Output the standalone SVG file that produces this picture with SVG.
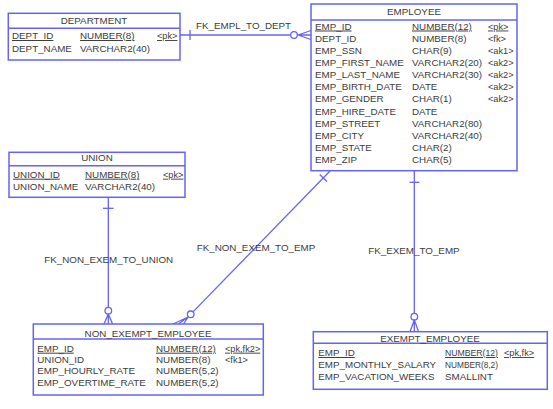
<svg xmlns="http://www.w3.org/2000/svg" width="553" height="409" viewBox="0 0 553 409">
<style>
text{font-family:"Liberation Sans",Arial,sans-serif;font-size:9.8px;fill:#3c3c3c}
.key{font-size:9.2px}
.pk{text-decoration:underline}
.title{text-anchor:middle}
.box{fill:#ffffff;stroke:#6464f0;stroke-width:1.5}
.sep{stroke:#6464f0;stroke-width:1.5}
.ln{stroke:#6464f0;stroke-width:1.3;fill:none}
.circ{stroke:#6464f0;stroke-width:1.3;fill:#ffffff}
</style>
<rect width="553" height="409" fill="#ffffff"/>
<g id="connectors">
  <!-- FK_EMPL_TO_DEPT -->
  <line class="ln" x1="180" y1="35" x2="290.7" y2="35"/>
  <line class="ln" x1="190" y1="30" x2="190" y2="40"/>
  <circle class="circ" cx="294" cy="35" r="3.3"/>
  <path class="ln" d="M297.3 35 L311 35 M298 35 L311 30.5 M298 35 L311 39.5"/>
  <text x="196" y="29">FK_EMPL_TO_DEPT</text>
  <!-- FK_NON_EXEM_TO_UNION -->
  <line class="ln" x1="108.3" y1="197" x2="108.3" y2="307.4"/>
  <line class="ln" x1="103" y1="208.3" x2="113.6" y2="208.3"/>
  <circle class="circ" cx="108.3" cy="310.7" r="3.3"/>
  <path class="ln" d="M108.3 314 L108.3 324 M108.3 314 L104 324 M108.3 314 L112.6 324"/>
  <text x="44.3" y="263.3">FK_NON_EXEM_TO_UNION</text>
  <!-- FK_NON_EXEM_TO_EMP -->
  <line class="ln" x1="330" y1="171" x2="193" y2="311.9"/>
  <line class="ln" x1="319.7" y1="174.5" x2="326.9" y2="181.5"/>
  <circle class="circ" cx="190.7" cy="314.3" r="3.3"/>
  <path class="ln" d="M188.2 317 L173 324 M188.2 317 L178.3 324 M188.2 317 L183.5 324"/>
  <text x="196.7" y="250.7">FK_NON_EXEM_TO_EMP</text>
  <!-- FK_EXEM_TO_EMP -->
  <line class="ln" x1="414.3" y1="171" x2="414.3" y2="313.4"/>
  <line class="ln" x1="409.5" y1="182.3" x2="419.3" y2="182.3"/>
  <circle class="circ" cx="414.3" cy="316.7" r="3.3"/>
  <path class="ln" d="M414.3 320 L414.3 331.7 M414.3 320 L410 331.7 M414.3 320 L418.6 331.7"/>
  <text x="368.3" y="254">FK_EXEM_TO_EMP</text>
</g>
<g id="department">
  <rect class="box" x="8.3" y="13.3" width="171.7" height="46.7"/>
  <line class="sep" x1="8.3" y1="28.3" x2="180" y2="28.3"/>
  <text class="title" x="94" y="24">DEPARTMENT</text>
  <text class="pk" x="12" y="39">DEPT_ID</text>
  <text class="pk" x="80" y="39">NUMBER(8)</text>
  <text class="pk key" x="157" y="39">&lt;pk&gt;</text>
  <text x="12" y="51.5">DEPT_NAME</text>
  <text x="80" y="51.5">VARCHAR2(40)</text>
</g>
<g id="employee">
  <rect class="box" x="311" y="4" width="206" height="166.7"/>
  <line class="sep" x1="311" y1="20" x2="517" y2="20"/>
  <text class="title" x="414" y="15">EMPLOYEE</text>
  <text class="pk" x="315" y="29.5">EMP_ID</text><text class="pk" x="412" y="29.5">NUMBER(12)</text><text class="pk key" x="488" y="29.5">&lt;pk&gt;</text>
  <text x="315" y="41.6">DEPT_ID</text><text x="412" y="41.6">NUMBER(8)</text><text class="key" x="488" y="41.6">&lt;fk&gt;</text>
  <text x="315" y="53.8">EMP_SSN</text><text x="412" y="53.8">CHAR(9)</text><text class="key" x="488" y="53.8">&lt;ak1&gt;</text>
  <text x="315" y="65.9">EMP_FIRST_NAME</text><text x="412" y="65.9">VARCHAR2(20)</text><text class="key" x="488" y="65.9">&lt;ak2&gt;</text>
  <text x="315" y="78.1">EMP_LAST_NAME</text><text x="412" y="78.1">VARCHAR2(30)</text><text class="key" x="488" y="78.1">&lt;ak2&gt;</text>
  <text x="315" y="90.2">EMP_BIRTH_DATE</text><text x="412" y="90.2">DATE</text><text class="key" x="488" y="90.2">&lt;ak2&gt;</text>
  <text x="315" y="102.4">EMP_GENDER</text><text x="412" y="102.4">CHAR(1)</text><text class="key" x="488" y="102.4">&lt;ak2&gt;</text>
  <text x="315" y="114.5">EMP_HIRE_DATE</text><text x="412" y="114.5">DATE</text>
  <text x="315" y="126.7">EMP_STREET</text><text x="412" y="126.7">VARCHAR2(80)</text>
  <text x="315" y="138.8">EMP_CITY</text><text x="412" y="138.8">VARCHAR2(40)</text>
  <text x="315" y="151">EMP_STATE</text><text x="412" y="151">CHAR(2)</text>
  <text x="315" y="163.1">EMP_ZIP</text><text x="412" y="163.1">CHAR(5)</text>
</g>
<g id="union">
  <rect class="box" x="9" y="152.3" width="176" height="45"/>
  <line class="sep" x1="9" y1="165.7" x2="185" y2="165.7"/>
  <text class="title" x="97" y="160.7">UNION</text>
  <text class="pk" x="13" y="177.7">UNION_ID</text>
  <text class="pk" x="85" y="177.7">NUMBER(8)</text>
  <text class="pk key" x="163" y="177.7">&lt;pk&gt;</text>
  <text x="13" y="189.5">UNION_NAME</text>
  <text x="85" y="189.5">VARCHAR2(40)</text>
</g>
<g id="non_exempt_employee">
  <rect class="box" x="33.3" y="324" width="230" height="71"/>
  <line class="sep" x1="33.3" y1="339" x2="263.3" y2="339"/>
  <text class="title" x="148" y="336.7">NON_EXEMPT_EMPLOYEE</text>
  <text class="pk" x="37.3" y="351.7">EMP_ID</text><text class="pk" x="156" y="351.7">NUMBER(12)</text><text class="pk key" x="225" y="351.7">&lt;pk,fk2&gt;</text>
  <text x="37.3" y="362.9">UNION_ID</text><text x="156" y="362.9">NUMBER(8)</text><text class="key" x="225" y="362.9">&lt;fk1&gt;</text>
  <text x="37.3" y="374.4">EMP_HOURLY_RATE</text><text x="156" y="374.4">NUMBER(5,2)</text>
  <text x="37.3" y="386">EMP_OVERTIME_RATE</text><text x="156" y="386">NUMBER(5,2)</text>
</g>
<g id="exempt_employee">
  <rect class="box" x="313.3" y="331.7" width="234" height="57.6"/>
  <line class="sep" x1="313.3" y1="343.3" x2="547.3" y2="343.3"/>
  <text class="title" x="430" y="341.8">EXEMPT_EMPLOYEE</text>
  <text class="pk" x="318.3" y="356">EMP_ID</text><text class="pk" x="445" y="356" textLength="53" lengthAdjust="spacingAndGlyphs">NUMBER(12)</text><text class="pk key" x="504" y="356">&lt;pk,fk&gt;</text>
  <text x="318.3" y="368">EMP_MONTHLY_SALARY</text><text x="445" y="368" textLength="53" lengthAdjust="spacingAndGlyphs">NUMBER(8,2)</text>
  <text x="318.3" y="380">EMP_VACATION_WEEKS</text><text x="445" y="380">SMALLINT</text>
</g>
</svg>
